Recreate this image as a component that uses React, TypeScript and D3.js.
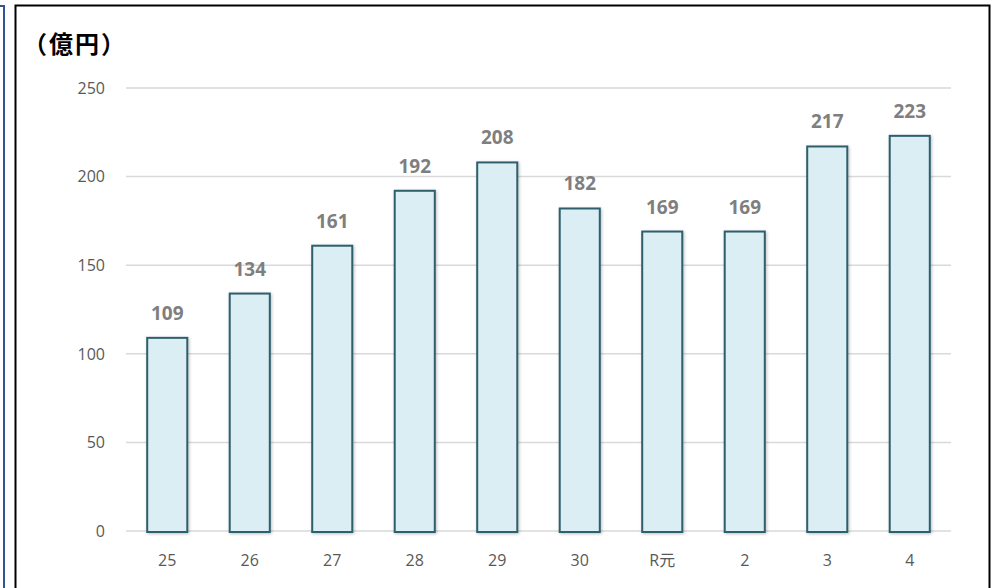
import React from "react";
import * as d3 from "d3";

const categories = ["25", "26", "27", "28", "29", "30", "R元", "2", "3", "4"];
const values = [109, 134, 161, 192, 208, 182, 169, 169, 217, 223];
const yTicks = [0, 50, 100, 150, 200, 250];
const unitLabel = "（億円）";

const W = 991;
const H = 588;

export default function App() {
  const x = d3
    .scaleBand<string>()
    .domain(categories)
    .range([126, 951])
    .paddingInner(0.49)
    .paddingOuter(0.245);
  const y = d3.scaleLinear().domain([0, 250]).range([531, 88]);
  const font = "'Open Sans', 'Noto Sans CJK JP', sans-serif";

  return (
    <svg
      width={W}
      height={H}
      style={{ position: "absolute", left: 0, top: 0, background: "#fff" }}
      fontFamily={font}
    >
      <defs>
        <filter id="sh" x="-20%" y="-20%" width="140%" height="140%">
          <feDropShadow dx="1" dy="1" stdDeviation="1.5" floodColor="#000" floodOpacity="0.25" />
        </filter>
      </defs>
      {/* outer decorations */}
      <path d="M0,6 H4 V588" fill="none" stroke="#2F5597" strokeWidth={2} />
      <path d="M15.5,600 V5.5 H989.5 V600" fill="none" stroke="#000" strokeWidth={2} />

      {/* unit label */}
      <text
        x={23}
        y={53}
        fontSize={24}
        fontWeight={700}
        letterSpacing={2}
        fill="#000"
        fontFamily="'Noto Sans CJK JP', sans-serif"
      >
        {unitLabel}
      </text>

      {/* gridlines */}
      {yTicks.map((t) => (
        <g key={t}>
          <line x1={126} x2={951} y1={y(t)} y2={y(t)} stroke="#d9d9d9" strokeWidth={1.5} />
          <text x={105} y={y(t)} dy="0.36em" textAnchor="end" fontSize={16} fill="#595959">
            {t}
          </text>
        </g>
      ))}

      {/* bars */}
      {categories.map((c, i) => {
        const v = values[i];
        const bx = x(c)!;
        const bw = x.bandwidth();
        return (
          <g key={c}>
            <rect
              x={bx + 1}
              y={y(v)}
              width={bw - 2}
              height={y(0) - y(v) + 1}
              fill="#DAEEF3"
              stroke="#2E5F6D"
              strokeWidth={2}
              filter="url(#sh)"
            />
            <text
              x={bx + bw / 2}
              y={y(v) - 18}
              textAnchor="middle"
              fontSize={19}
              fontWeight={700}
              fill="#7f7f7f"
            >
              {v}
            </text>
            <text
              x={bx + bw / 2}
              y={566}
              textAnchor="middle"
              fontSize={16}
              fill="#595959"
            >
              {c}
            </text>
          </g>
        );
      })}
    </svg>
  );
}
